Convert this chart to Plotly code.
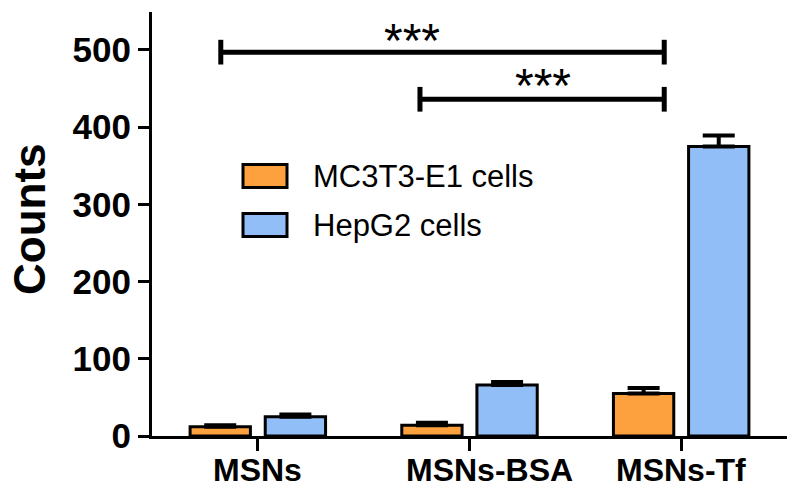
import plotly.graph_objects as go

categories = ["MSNs", "MSNs-BSA", "MSNs-Tf"]
mc3t3_values = [12, 14, 55]
mc3t3_errors = [2, 3, 7]
hepg2_values = [25, 66, 375]
hepg2_errors = [3, 4, 14]
y_ticks = [0, 100, 200, 300, 400, 500]
series_names = ["MC3T3-E1 cells", "HepG2 cells"]
sig_labels = ["***", "***"]

ORANGE = "#FDA03E"
BLUE = "#92BEF8"
FONT = "Arial, Liberation Sans, sans-serif"

W, H = 800, 504
L, R, T, B = 152, 13, 12, 68
PW, PH = W - L - R, H - T - B


def px_x(px):
    return (px - L) / PW


def px_y(py):
    return (H - B - py) / PH


xpos = list(range(len(categories)))

fig = go.Figure()
fig.add_trace(go.Bar(
    x=xpos, y=mc3t3_values, name=series_names[0],
    width=0.285, offset=-0.32,
    marker=dict(color=ORANGE, line=dict(color="black", width=3)),
    error_y=dict(type="data", symmetric=False, array=mc3t3_errors,
                 arrayminus=[0] * 3, color="black", thickness=4, width=16),
    showlegend=False,
))
fig.add_trace(go.Bar(
    x=xpos, y=hepg2_values, name=series_names[1],
    width=0.285, offset=0.035,
    marker=dict(color=BLUE, line=dict(color="black", width=3)),
    error_y=dict(type="data", symmetric=False, array=hepg2_errors,
                 arrayminus=[0] * 3, color="black", thickness=4, width=16),
    showlegend=False,
))

shapes = []
annotations = []

# custom legend
legend_rows = [(series_names[0], ORANGE, 176), (series_names[1], BLUE, 225)]
for name, col, cy in legend_rows:
    shapes.append(dict(type="rect", xref="paper", yref="paper",
                       x0=px_x(243), x1=px_x(287), y0=px_y(cy - 11.5), y1=px_y(cy + 11.5),
                       fillcolor=col, line=dict(color="black", width=3)))
    annotations.append(dict(xref="paper", yref="paper", x=px_x(311), y=px_y(cy),
                            xanchor="left", yanchor="middle", showarrow=False,
                            text=name, font=dict(family=FONT, size=31, color="black")))

# significance brackets (data coordinates)
brackets = [(-0.175, 1.92, 497, 524, 0.727), (0.766, 1.92, 436, 466, 1.349)]
for (xa, xb, yl, ys, xs), lab in zip(brackets, sig_labels):
    shapes.append(dict(type="line", xref="x", yref="y", x0=xa, x1=xb, y0=yl, y1=yl,
                       line=dict(color="black", width=5)))
    for xc in (xa, xb):
        shapes.append(dict(type="line", xref="x", yref="y", x0=xc, x1=xc,
                           y0=yl - 16, y1=yl + 16, line=dict(color="black", width=5)))
    annotations.append(dict(xref="x", yref="y", x=xs, y=ys, text=lab, showarrow=False,
                            xanchor="center", yanchor="middle", yshift=-9,
                            font=dict(family=FONT, size=48, color="black")))

# category labels
label_shift = [0, 20, 0]
for i, (c, s) in enumerate(zip(categories, label_shift)):
    annotations.append(dict(xref="x", yref="paper", x=i, y=px_y(470), text=c,
                            showarrow=False, xanchor="center", yanchor="middle", xshift=s,
                            font=dict(family=FONT, size=32, color="black", weight="bold")))

# y title
annotations.append(dict(xref="paper", yref="paper", x=px_x(29), y=px_y(219), text="Counts",
                        textangle=-90, showarrow=False, xanchor="center", yanchor="middle",
                        borderpad=0,
                        font=dict(family=FONT, size=44, color="black", weight="bold")))

fig.update_layout(
    width=W, height=H,
    margin=dict(l=L, r=R, t=T, b=B, pad=0),
    paper_bgcolor="white", plot_bgcolor="white",
    barmode="overlay",
    hovermode=False,
    shapes=shapes, annotations=annotations,
    xaxis=dict(range=[-0.5, 2.5], tickvals=xpos, ticktext=["", "", ""],
               showline=True, linewidth=3, linecolor="black",
               ticks="outside", ticklen=12, tickwidth=3, tickcolor="black",
               showgrid=False, zeroline=False, fixedrange=True),
    yaxis=dict(range=[0, 549], tickvals=y_ticks,
               showline=True, linewidth=3, linecolor="black",
               ticks="outside", ticklen=11, tickwidth=3, tickcolor="black",
               tickfont=dict(family=FONT, size=35, color="black", weight="bold"),
               showgrid=False, zeroline=False, fixedrange=True),
)

fig.write_html("out.html",
               config={"displayModeBar": False, "staticPlot": True},
               post_script="document.body.style.margin='0';document.body.style.overflow='hidden';")
